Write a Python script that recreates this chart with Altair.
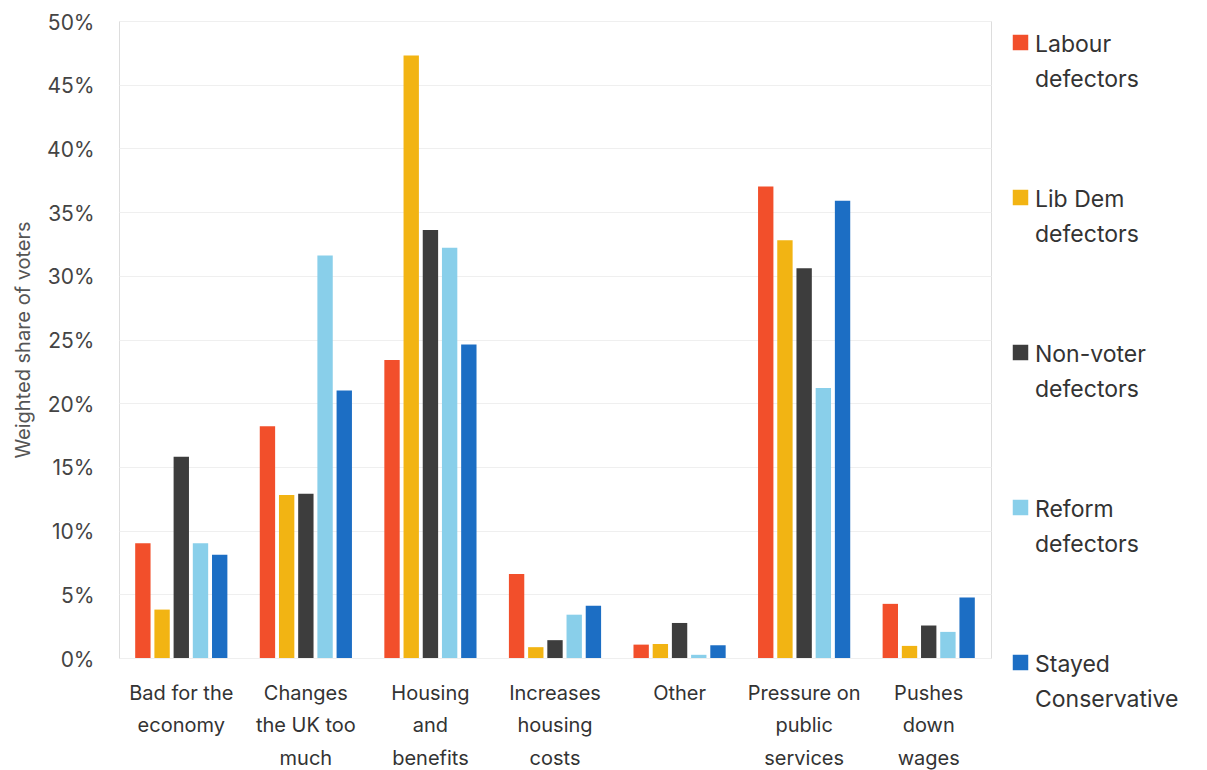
import altair as alt
import pandas as pd

categories = ["Bad for the economy", "Changes the UK too much", "Housing and benefits",
              "Increases housing costs", "Other", "Pressure on public services", "Pushes down wages"]
category_lines = [["Bad for the", "economy"], ["Changes", "the UK too", "much"], ["Housing", "and", "benefits"],
                  ["Increases", "housing", "costs"], ["Other"], ["Pressure on", "public", "services"],
                  ["Pushes", "down", "wages"]]
groups = ["Labour defectors", "Lib Dem defectors", "Non-voter defectors", "Reform defectors", "Stayed Conservative"]
group_lines = [["Labour", "defectors"], ["Lib Dem", "defectors"], ["Non-voter", "defectors"],
               ["Reform", "defectors"], ["Stayed", "Conservative"]]
colors = ["#F24F2B", "#F2B413", "#3D3D3D", "#89CFEA", "#1C6EC4"]

labour = [9.0, 18.2, 23.4, 6.6, 1.05, 37.0, 4.25]
libdem = [3.8, 12.8, 47.3, 0.85, 1.1, 32.8, 0.95]
nonvoter = [15.8, 12.9, 33.6, 1.4, 2.75, 30.6, 2.55]
reform = [9.0, 31.6, 32.2, 3.4, 0.25, 21.2, 2.05]
stayed = [8.1, 21.0, 24.6, 4.1, 1.0, 35.9, 4.75]

series = [labour, libdem, nonvoter, reform, stayed]
rows = []
for g, vals in zip(groups, series):
    for c, v in zip(categories, vals):
        rows.append({"category": c, "group": g, "value": v / 100})
df = pd.DataFrame(rows)

def mapping_expr(keys, lines):
    parts = []
    for k, l in zip(keys, lines):
        arr = "[" + ",".join("'" + s + "'" for s in l) + "]"
        parts.append(f"datum.label == '{k}' ? {arr} : ")
    return "".join(parts) + "datum.label"

FONT = "Inter"

chart = alt.Chart(df).mark_bar().encode(
    x=alt.X("category:N", sort=categories,
            scale=alt.Scale(paddingInner=0.26, paddingOuter=0.13),
            axis=alt.Axis(title=None, labelAngle=0, labelExpr=mapping_expr(categories, category_lines),
                          labelFontSize=20, labelLineHeight=32.5, labelPadding=34, labelColor="#333333",
                          labelFont=FONT, ticks=False, domain=False, labelLimit=200)),
    xOffset=alt.XOffset("group:N", sort=groups, scale=alt.Scale(paddingInner=0.2, paddingOuter=0)),
    y=alt.Y("value:Q", scale=alt.Scale(domain=[0, 0.5]),
            axis=alt.Axis(title="Weighted share of voters", format=".0%", values=[i / 100 for i in range(0, 51, 5)],
                          labelFontSize=21, labelColor="#444444", labelFont=FONT, labelPadding=25,
                          labelBaseline="top",
                          titleFontSize=20, titleFont=FONT, titleFontWeight="normal", titleColor="#555555",
                          titlePadding=13, ticks=False, domain=False, gridColor="#EFEFEF")),
    color=alt.Color("group:N", sort=groups, scale=alt.Scale(domain=groups, range=colors),
                    legend=alt.Legend(title=None, orient="right", offset=8, padding=10, symbolType="square",
                                      symbolSize=240, symbolStrokeWidth=0, labelFontSize=23,
                                      labelFont=FONT, labelColor="#333333", labelBaseline="top",
                                      labelExpr=mapping_expr(groups, group_lines),
                                      rowPadding=94, labelOffset=3, labelLimit=250)),
).properties(width=872, height=637).configure_view(stroke="transparent", strokeWidth=0).configure(
    padding={"left": 5, "top": 4, "right": 5, "bottom": 5},
    style={"guide-label": {"lineHeight": 35, "dy": -9}})

chart.save("out.html", embed_options={"renderer": "svg", "actions": False})
